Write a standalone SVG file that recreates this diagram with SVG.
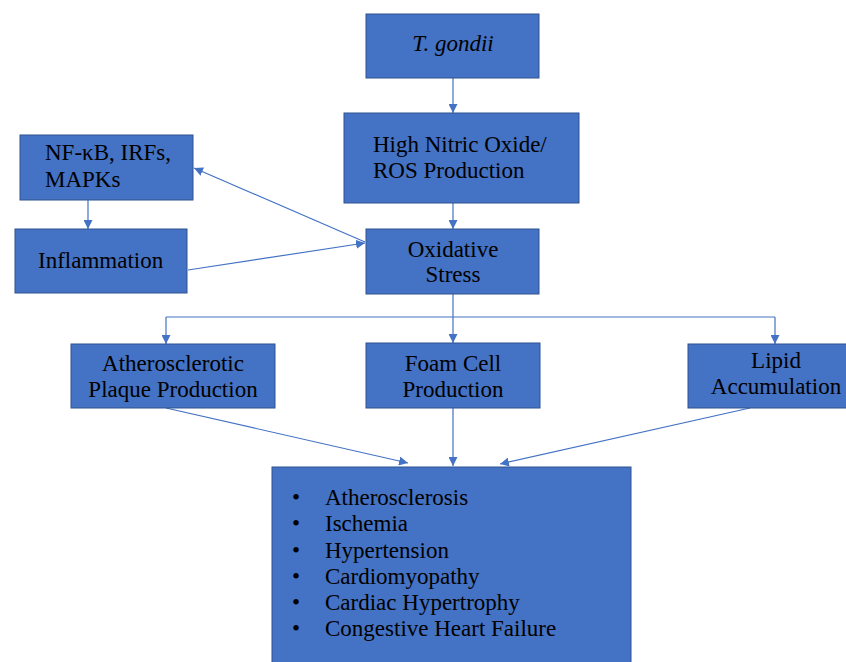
<svg xmlns="http://www.w3.org/2000/svg" width="846" height="662" viewBox="0 0 846 662">
<style>
.box{fill:#4472C4;stroke:#2F528F;stroke-width:1}
.t{font-family:"Liberation Serif","Times New Roman",serif;font-size:23px;fill:#000}
.c{text-anchor:middle}
.ln{stroke:#4472C4;stroke-width:1.2;fill:none;marker-end:url(#ah)}
</style>
<defs>
<marker id="ah" viewBox="0 0 10 10" refX="10" refY="5" markerWidth="9" markerHeight="9" markerUnits="userSpaceOnUse" orient="auto">
<path d="M0,0 L10,5 L0,10 z" fill="#4472C4"/>
</marker>
</defs>
<rect width="846" height="662" fill="#fff"/>
<g id="connectors">
<line class="ln" x1="453" y1="78" x2="453" y2="113"/>
<line class="ln" x1="453" y1="203" x2="453" y2="229"/>
<line class="ln" x1="365" y1="242" x2="194" y2="168"/>
<line class="ln" x1="188" y1="270" x2="365" y2="243"/>
<line class="ln" x1="88" y1="200" x2="88" y2="229"/>
<polyline points="453,294 453,317" stroke="#4472C4" stroke-width="1.2" fill="none"/>
<polyline points="166,317 775,317" stroke="#4472C4" stroke-width="1.2" fill="none"/>
<line class="ln" x1="166" y1="317" x2="166" y2="344"/>
<line class="ln" x1="453" y1="317" x2="453" y2="343"/>
<line class="ln" x1="775" y1="317" x2="775" y2="344"/>
<line class="ln" x1="166" y1="408" x2="408" y2="463"/>
<line class="ln" x1="453" y1="408" x2="453" y2="466"/>
<line class="ln" x1="750" y1="408" x2="500" y2="464"/>
</g>
<g id="tgondii">
<rect class="box" x="366" y="14" width="173" height="64"/>
<text class="t c" x="453" y="51" font-style="italic">T. gondii</text>
</g>
<g id="nitric">
<rect class="box" x="344" y="113" width="235" height="90"/>
<text class="t" x="373" y="152">High Nitric Oxide/</text>
<text class="t" x="373" y="178">ROS Production</text>
</g>
<g id="oxidative">
<rect class="box" x="366" y="229" width="173" height="65"/>
<text class="t c" x="453" y="257">Oxidative</text>
<text class="t c" x="453" y="282">Stress</text>
</g>
<g id="nfkb">
<rect class="box" x="20" y="135" width="173" height="65"/>
<text class="t" x="45" y="160">NF-κB, IRFs,</text>
<text class="t" x="45" y="187">MAPKs</text>
</g>
<g id="inflammation">
<rect class="box" x="15" y="229" width="172" height="64"/>
<text class="t" x="38" y="268">Inflammation</text>
</g>
<g id="plaque">
<rect class="box" x="71" y="344" width="204" height="64"/>
<text class="t c" x="173" y="371">Atherosclerotic</text>
<text class="t c" x="173" y="397">Plaque Production</text>
</g>
<g id="foam">
<rect class="box" x="366" y="343" width="174" height="65"/>
<text class="t c" x="453" y="371">Foam Cell</text>
<text class="t c" x="453" y="397">Production</text>
</g>
<g id="lipid">
<rect class="box" x="688" y="344" width="160" height="64"/>
<text class="t c" x="776" y="368">Lipid</text>
<text class="t c" x="776" y="394">Accumulation</text>
</g>
<g id="outcomes">
<rect class="box" x="272" y="467" width="359" height="200"/>
<g class="t">
<text x="292" y="505">•</text><text x="325" y="505">Atherosclerosis</text>
<text x="292" y="531">•</text><text x="325" y="531">Ischemia</text>
<text x="292" y="558">•</text><text x="325" y="558">Hypertension</text>
<text x="292" y="584">•</text><text x="325" y="584">Cardiomyopathy</text>
<text x="292" y="610">•</text><text x="325" y="610">Cardiac Hypertrophy</text>
<text x="292" y="636">•</text><text x="325" y="636">Congestive Heart Failure</text>
</g>
</g>
</svg>
